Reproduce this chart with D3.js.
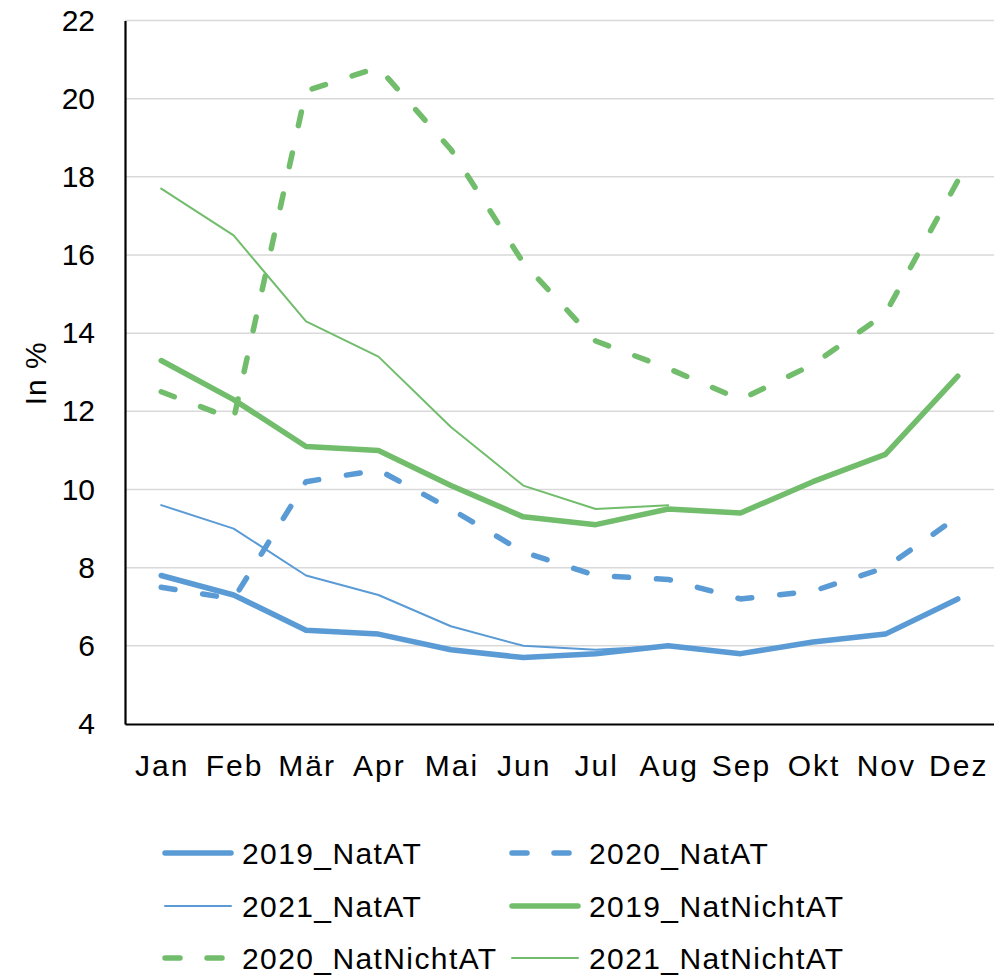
<!DOCTYPE html>
<html>
<head>
<meta charset="utf-8">
<script src="https://cdn.jsdelivr.net/npm/d3@7"></script>
<style>
  html, body { margin: 0; padding: 0; background: #fff; }
  svg { display: block; }
  text { font-family: "Liberation Sans", Arial, sans-serif; fill: #000; }
</style>
</head>
<body>
<svg id="chart" width="994" height="976"></svg>
<script>
const months = ["Jan", "Feb", "Mär", "Apr", "Mai", "Jun", "Jul", "Aug", "Sep", "Okt", "Nov", "Dez"];
const yTicks = [4, 6, 8, 10, 12, 14, 16, 18, 20, 22];

const natAT2019 = [7.8, 7.3, 6.4, 6.3, 5.9, 5.7, 5.8, 6.0, 5.8, 6.1, 6.3, 7.2];
const natAT2020 = [7.5, 7.2, 10.2, 10.5, 9.5, 8.4, 7.8, 7.7, 7.2, 7.4, 8.0, 9.3];
const natAT2021 = [9.6, 9.0, 7.8, 7.3, 6.5, 6.0, 5.9, 6.0, null, null, null, null];
const natNichtAT2019 = [13.3, 12.3, 11.1, 11.0, 10.1, 9.3, 9.1, 9.5, 9.4, 10.2, 10.9, 12.9];
const natNichtAT2020 = [12.5, 11.8, 20.2, 20.8, 18.7, 15.8, 13.8, 13.1, 12.3, 13.2, 14.5, 17.9];
const natNichtAT2021 = [17.7, 16.5, 14.3, 13.4, 11.6, 10.1, 9.5, 9.6, null, null, null, null];

const seriesNames = ["2019_NatAT", "2020_NatAT", "2021_NatAT", "2019_NatNichtAT", "2020_NatNichtAT", "2021_NatNichtAT"];
const seriesValues = [natAT2019, natAT2020, natAT2021, natNichtAT2019, natNichtAT2020, natNichtAT2021];

const BLUE = "#5B9BD5", GREEN = "#71BD6C";
const styles = [
  { color: BLUE, width: 5.5, dash: null },
  { color: BLUE, width: 5.5, dash: "14,28" },
  { color: BLUE, width: 2, dash: null },
  { color: GREEN, width: 5.5, dash: null },
  { color: GREEN, width: 5.5, dash: "14,28" },
  { color: GREEN, width: 2, dash: null }
];

const svg = d3.select("#chart");
const pLeft = 125, pRight = 994, pTop = 20.5, pBottom = 724;
const FS = 30;

const x = d3.scaleBand().domain(months).range([pLeft, pRight]).padding(0);
const cx = m => x(m) + x.bandwidth() / 2;
const y = d3.scaleLinear().domain([4, 22]).range([pBottom, pTop]);

// gridlines
svg.append("g").selectAll("line").data(yTicks.filter(t => t > 4)).join("line")
  .attr("x1", pLeft).attr("x2", pRight)
  .attr("y1", d => y(d)).attr("y2", d => y(d))
  .attr("stroke", "#D9D9D9").attr("stroke-width", 1.5);

// y axis
const yAxis = svg.append("g").attr("transform", `translate(${pLeft},0)`)
  .call(d3.axisLeft(y).tickValues(yTicks).tickSize(0).tickPadding(30).tickFormat(d3.format("d")));
yAxis.select(".domain").attr("stroke", "#000").attr("stroke-width", 2.2);
yAxis.selectAll("text").attr("font-size", FS).style("font-family", "'Liberation Sans', Arial, sans-serif");

// x axis
const xAxis = svg.append("g").attr("transform", `translate(0,${pBottom})`)
  .call(d3.axisBottom(x).tickSize(0).tickPadding(31));
xAxis.select(".domain").attr("stroke", "#000").attr("stroke-width", 2.2);
xAxis.selectAll("text").attr("font-size", FS)
  .attr("letter-spacing", "2px").attr("dx", "1")
  .style("font-family", "'Liberation Sans', Arial, sans-serif");

// y title
svg.append("text")
  .attr("transform", `translate(35,${(pTop + pBottom) / 2 + 1}) rotate(-90)`)
  .attr("text-anchor", "middle").attr("dominant-baseline", "central")
  .attr("font-size", FS).attr("letter-spacing", "1px").text("In %");

// lines
const line = d3.line()
  .defined(d => d.v !== null)
  .x(d => cx(d.m)).y(d => y(d.v));

const plot = svg.append("g");
seriesValues.forEach((vals, i) => {
  const st = styles[i];
  plot.append("path")
    .datum(months.map((m, j) => ({ m, v: vals[j] })))
    .attr("d", line)
    .attr("fill", "none")
    .attr("stroke", st.color)
    .attr("stroke-width", st.width)
    .attr("stroke-linejoin", "round")
    .attr("stroke-linecap", "round")
    .attr("stroke-dasharray", st.dash);
});

// legend
const legendCols = [165, 512];
const legendRows = [853, 906, 958];
const legend = svg.append("g");
seriesNames.forEach((name, i) => {
  const st = styles[i];
  const lx = legendCols[i % 2], ly = legendRows[Math.floor(i / 2)];
  legend.append("line")
    .attr("x1", lx).attr("x2", lx + 66)
    .attr("y1", ly).attr("y2", ly)
    .attr("stroke", st.color).attr("stroke-width", st.width)
    .attr("stroke-linecap", "round")
    .attr("stroke-dasharray", st.dash ? "15,27" : null);
  legend.append("text")
    .attr("x", lx + 77).attr("y", ly)
    .attr("dominant-baseline", "central")
    .attr("letter-spacing", "1.4px")
    .attr("font-size", FS).text(name);
});
</script>
</body>
</html>
